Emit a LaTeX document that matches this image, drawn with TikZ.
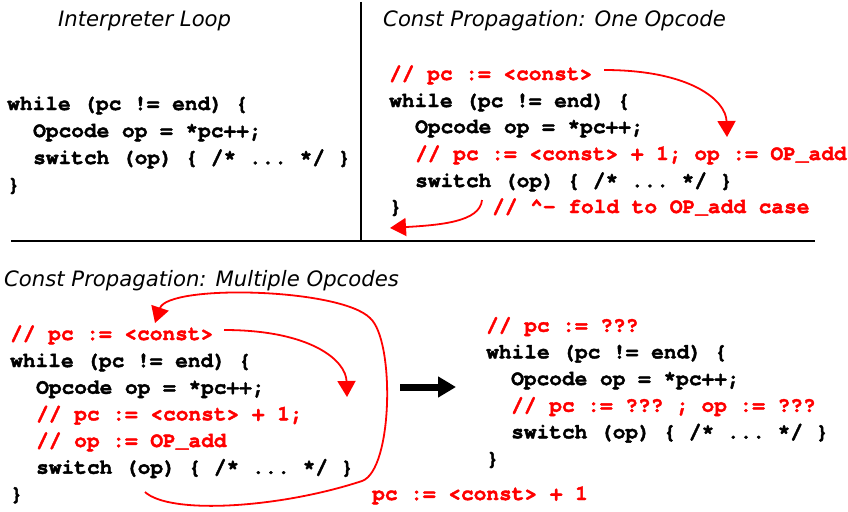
\documentclass[tikz,border=0pt]{standalone}
\usepackage{fontspec}
\setmonofont{TeX Gyre Cursor}[BoldFeatures={FakeBold=2}]
\newfontfamily\titlefont{DejaVu Sans}
\usetikzlibrary{arrows.meta}
\begin{document}
\begin{tikzpicture}[x=1pt,y=-1pt,
  code/.style={anchor=base west, inner sep=0pt, font=\fontsize{21.15}{27}\selectfont\ttfamily\bfseries},
  rcode/.style={code, text=red},
  ttl/.style={anchor=base west, inner sep=0pt, font=\fontsize{21.2}{25}\selectfont\titlefont\itshape},
  sepline/.style={line width=2.4pt},
  redarrow/.style={draw=red, line width=1.8pt, -{Triangle[length=16pt,width=18pt]}},
  bigarrow/.style={line width=7pt, -{Triangle[length=18pt,width=20pt]}},
]
\useasboundingbox (0,0) rectangle (848,511);

% separators
\coordinate (vtop) at (361,2);
\coordinate (vbot) at (361,241);
\coordinate (hl) at (11,241);
\coordinate (hr) at (815,241);
\draw[sepline] (vtop) -- (vbot);
\draw[sepline] (hl) -- (hr);

% titles
\node[ttl] (t1) at (58,27) {Interpreter Loop};
\node[ttl] (t2) at (383,27) {Const Propagation: One Opcode};
\node[ttl] (t3) at (4,286) {Const Propagation: Multiple Opcodes};

% panel 1
\node[code] (a1) at (7,110) {while (pc != end) \{};
\node[code] (a2) at (33,137) {Opcode op = *pc++;};
\node[code] (a3) at (33,164) {switch (op) \{ /* ... */ \}};
\node[code] (a4) at (7,191) {\}};

% panel 2
\node[rcode] (b0) at (389,80) {// pc := <const>};
\node[code] (b1) at (389,107) {while (pc != end) \{};
\node[code] (b2) at (415,133) {Opcode op = *pc++;};
\node[rcode] (b3) at (415,160) {// pc := <const> + 1; op := OP\_add};
\node[code] (b4) at (415,187) {switch (op) \{ /* ... */ \}};
\node[code] (b5) at (389,213) {\}};
\node[rcode] (b6) at (492,213) {// \^{}- fold to OP\_add case};

% panel 3
\node[rcode] (c0) at (10,340) {// pc := <const>};
\node[code] (c1) at (10,367) {while (pc != end) \{};
\node[code] (c2) at (36,393.7) {Opcode op = *pc++;};
\node[rcode] (c3) at (36,420.3) {// pc := <const> + 1;};
\node[rcode] (c4) at (36,447) {// op := OP\_add};
\node[code] (c5) at (36,473.7) {switch (op) \{ /* ... */ \}};
\node[code] (c6) at (10,500.3) {\}};
\node[rcode] (c7) at (372,500) {pc := <const> + 1};

% panel 4
\node[rcode] (d0) at (486,331.7) {// pc := ???};
\node[code] (d1) at (486,358.3) {while (pc != end) \{};
\node[code] (d2) at (511,385) {Opcode op = *pc++;};
\node[rcode] (d3) at (511,411.7) {// pc := ??? ; op := ???};
\node[code] (d4) at (511,438.3) {switch (op) \{ /* ... */ \}};
\node[code] (d5) at (486,465) {\}};

% red arrows
\coordinate (p1s) at (604,70);
\coordinate (p1e) at (727,137);
\draw[redarrow] (p1s) .. controls (690,70) and (726,100) .. (p1e);

\coordinate (p2s) at (482,200);
\coordinate (p2e) at (390,228);
\draw[redarrow] (p2s) .. controls (480,222) and (440,225) .. (p2e);

\coordinate (p3s) at (224,330);
\coordinate (p3e) at (347,397);
\draw[redarrow] (p3s) .. controls (310,330) and (346,360) .. (p3e);

\coordinate (p4s) at (145,492);
\coordinate (p4a) at (362,481);
\coordinate (p4b) at (370,318);
\coordinate (p4e) at (155,323);
\draw[redarrow] (p4s) .. controls (170,515) and (280,508) .. (p4a)
  .. controls (393,470) and (395,340) .. (p4b)
  .. controls (340,288) and (168,284) .. (p4e);

% black arrow
\coordinate (k1) at (400,387);
\coordinate (k2) at (456,387);
\draw[bigarrow] (k1) -- (k2);
\end{tikzpicture}
\end{document}
